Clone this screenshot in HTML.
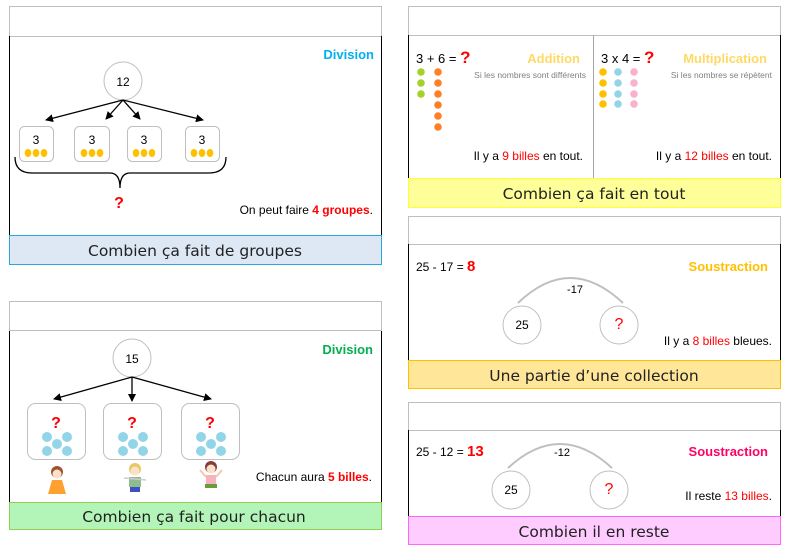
<!DOCTYPE html>
<html><head><meta charset="utf-8"><style>
body{margin:0;background:#fff;width:793px;height:557px;overflow:hidden}
svg{display:block}
text{font-family:"Liberation Sans",sans-serif}
.f{font-family:"DejaVu Sans","Liberation Sans",sans-serif;font-size:15.5px;fill:#222}
</style></head><body>
<svg width="793" height="557" viewBox="0 0 793 557" xmlns="http://www.w3.org/2000/svg">
<defs><marker id="a" markerWidth="8" markerHeight="8" refX="7" refY="4" orient="auto" markerUnits="userSpaceOnUse"><path d="M0,0 L8,4 L0,8 z" fill="#000"/></marker></defs>

<!-- Panel 1 -->
<rect x="9.5" y="6.5" width="372" height="30" fill="#fff" stroke="#bfbfbf"/>
<path d="M9.5,36 V235 M381.5,36 V235" stroke="#000"/>
<rect x="9.5" y="235.5" width="372" height="29" fill="#dde8f4" stroke="#2aa6de"/>
<text class="f" x="195" y="256" text-anchor="middle">Combien ça fait de groupes</text>
<text x="374" y="59" text-anchor="end" font-weight="bold" font-size="13" fill="#00b0f0">Division</text>
<circle cx="123" cy="81" r="19" fill="#fff" stroke="#bfbfbf"/>
<text x="123" y="86" text-anchor="middle" font-size="12">12</text>
<g stroke="#000" stroke-width="1.3" marker-end="url(#a)">
<line x1="123" y1="100" x2="46" y2="120"/><line x1="123" y1="100" x2="106" y2="119"/>
<line x1="123" y1="100" x2="140" y2="119"/><line x1="123" y1="100" x2="203" y2="120"/></g>
<g fill="#fff" stroke="#bfbfbf">
<rect x="19.5" y="126.5" width="34" height="35" rx="5"/><rect x="74.5" y="126.5" width="35" height="35" rx="5"/>
<rect x="127.5" y="126.5" width="34" height="35" rx="5"/><rect x="185.5" y="126.5" width="34" height="35" rx="5"/></g>
<g font-size="12" text-anchor="middle"><text x="36" y="144">3</text><text x="92" y="144">3</text><text x="144" y="144">3</text><text x="202" y="144">3</text></g>
<g fill="#ffc000">
<ellipse cx="28" cy="153" rx="3.3" ry="4"/><ellipse cx="36" cy="153" rx="3.3" ry="4"/><ellipse cx="44" cy="153" rx="3.3" ry="4"/>
<ellipse cx="84" cy="153" rx="3.3" ry="4"/><ellipse cx="92" cy="153" rx="3.3" ry="4"/><ellipse cx="100" cy="153" rx="3.3" ry="4"/>
<ellipse cx="136" cy="153" rx="3.3" ry="4"/><ellipse cx="144" cy="153" rx="3.3" ry="4"/><ellipse cx="152" cy="153" rx="3.3" ry="4"/>
<ellipse cx="194" cy="153" rx="3.3" ry="4"/><ellipse cx="202" cy="153" rx="3.3" ry="4"/><ellipse cx="210" cy="153" rx="3.3" ry="4"/></g>
<path d="M15,157 Q15,173 32,173 H110 Q120,173 120,188 Q120,173 130,173 H209 Q226,173 226,157" fill="none" stroke="#000" stroke-width="1.3"/>
<text x="119" y="208" text-anchor="middle" font-weight="bold" font-size="16" fill="#ff0000">?</text>
<text x="373" y="214" text-anchor="end" font-size="12">On peut faire <tspan fill="#ff0000" font-weight="bold">4 groupes</tspan>.</text>

<!-- Panel 2 -->
<rect x="408.5" y="6.5" width="372" height="29" fill="#fff" stroke="#bfbfbf"/>
<path d="M408.5,35 V178 M780.5,35 V178" stroke="#000"/>
<path d="M593.5,35 V178" stroke="#a6a6a6"/>
<rect x="408.5" y="178.5" width="372" height="29" fill="#ffff99" stroke="#ffff33"/>
<text class="f" x="594" y="199" text-anchor="middle">Combien ça fait en tout</text>
<text x="416" y="63" font-size="13">3 + 6 = <tspan fill="#ff0000" font-weight="bold" font-size="17">?</tspan></text>
<text x="580" y="63" text-anchor="end" font-weight="bold" font-size="13" fill="#ffd966">Addition</text>
<text x="586" y="78" text-anchor="end" font-size="8.5" fill="#7f7f7f">Si les nombres sont différents</text>
<g fill="#a6d12a"><circle cx="421" cy="72" r="3.8"/><circle cx="421" cy="83" r="3.8"/><circle cx="421" cy="94" r="3.8"/></g>
<g fill="#ff7f27"><circle cx="438" cy="72" r="3.8"/><circle cx="438" cy="83" r="3.8"/><circle cx="438" cy="94" r="3.8"/><circle cx="438" cy="105" r="3.8"/><circle cx="438" cy="116" r="3.8"/><circle cx="438" cy="127" r="3.8"/></g>
<text x="583" y="160" text-anchor="end" font-size="12">Il y a <tspan fill="#ff0000">9 billes</tspan> en tout.</text>
<text x="601" y="63" font-size="13">3 x 4 = <tspan fill="#ff0000" font-weight="bold" font-size="17">?</tspan></text>
<text x="767" y="63" text-anchor="end" font-weight="bold" font-size="13" fill="#ffd966">Multiplication</text>
<text x="772" y="78" text-anchor="end" font-size="8.5" fill="#7f7f7f">Si les nombres se répètent</text>
<g fill="#ffc000"><circle cx="603" cy="72" r="3.8"/><circle cx="603" cy="83" r="3.8"/><circle cx="603" cy="94" r="3.8"/><circle cx="603" cy="104" r="3.8"/></g>
<g fill="#92d5e8"><circle cx="618" cy="72" r="3.8"/><circle cx="618" cy="83" r="3.8"/><circle cx="618" cy="94" r="3.8"/><circle cx="618" cy="104" r="3.8"/></g>
<g fill="#f9b1cd"><circle cx="634" cy="72" r="3.8"/><circle cx="634" cy="83" r="3.8"/><circle cx="634" cy="94" r="3.8"/><circle cx="634" cy="104" r="3.8"/></g>
<text x="772" y="160" text-anchor="end" font-size="12">Il y a <tspan fill="#ff0000">12 billes</tspan> en tout.</text>

<!-- Panel 3 -->
<rect x="9.5" y="301.5" width="372" height="29" fill="#fff" stroke="#bfbfbf"/>
<path d="M9.5,331 V502 M381.5,331 V502" stroke="#000"/>
<rect x="9.5" y="502.5" width="372" height="27" fill="#b3f5b9" stroke="#92d050"/>
<text class="f" x="194" y="522" text-anchor="middle">Combien ça fait pour chacun</text>
<text x="373" y="354" text-anchor="end" font-weight="bold" font-size="13" fill="#00b050">Division</text>
<circle cx="132" cy="358" r="19" fill="#fff" stroke="#bfbfbf"/>
<text x="132" y="363" text-anchor="middle" font-size="12">15</text>
<g stroke="#000" stroke-width="1.3" marker-end="url(#a)">
<line x1="132" y1="377" x2="54" y2="399"/><line x1="132" y1="377" x2="132" y2="401"/><line x1="132" y1="377" x2="211" y2="399"/></g>
<g fill="#fff" stroke="#bfbfbf">
<rect x="27.5" y="403.5" width="58" height="56" rx="8"/><rect x="103.5" y="403.5" width="58" height="56" rx="8"/><rect x="181.5" y="403.5" width="58" height="56" rx="8"/></g>
<g font-weight="bold" font-size="16" fill="#ff0000" text-anchor="middle"><text x="56" y="428">?</text><text x="132" y="428">?</text><text x="210" y="428">?</text></g>
<g fill="#92d5e8">
<circle cx="47" cy="437" r="5"/><circle cx="67" cy="437" r="5"/><circle cx="57" cy="444" r="5"/><circle cx="47" cy="451" r="5"/><circle cx="67" cy="451" r="5"/>
<circle cx="123" cy="437" r="5"/><circle cx="143" cy="437" r="5"/><circle cx="133" cy="444" r="5"/><circle cx="123" cy="451" r="5"/><circle cx="143" cy="451" r="5"/>
<circle cx="201" cy="437" r="5"/><circle cx="221" cy="437" r="5"/><circle cx="211" cy="444" r="5"/><circle cx="201" cy="451" r="5"/><circle cx="221" cy="451" r="5"/></g>
<!-- kids -->
<circle cx="57" cy="472" r="6" fill="#a0522d"/><circle cx="57" cy="474" r="4.5" fill="#fde0c8"/>
<path d="M52,480 L62,480 L66,494 L48,494 z" fill="#ffa030"/>
<circle cx="135" cy="469" r="6" fill="#e8c860"/><circle cx="135" cy="471" r="4.5" fill="#fde0c8"/>
<rect x="129" y="477" width="12" height="10" fill="#8fbc8f"/><rect x="130" y="487" width="10" height="5" fill="#4050c0"/>
<path d="M124,478 L146,480" stroke="#ccc" stroke-width="1.5"/>
<circle cx="211" cy="467" r="6" fill="#8b3a3a"/><circle cx="211" cy="469" r="4.5" fill="#fde0c8"/>
<rect x="206" y="475" width="10" height="9" fill="#f9b1c0"/><rect x="205" y="484" width="12" height="4" fill="#6a9a3a"/>
<path d="M200,470 L206,477 M222,470 L216,477" stroke="#f4c8b0" stroke-width="2"/>
<text x="372" y="481" text-anchor="end" font-size="12">Chacun aura  <tspan fill="#ff0000" font-weight="bold">5 billes</tspan>.</text>

<!-- Panel 4 -->
<rect x="408.5" y="216.5" width="372" height="28" fill="#fff" stroke="#bfbfbf"/>
<path d="M408.5,244 V360 M780.5,244 V360" stroke="#000"/>
<rect x="408.5" y="360.5" width="372" height="28" fill="#ffe699" stroke="#ffc000"/>
<text class="f" x="594" y="381" text-anchor="middle">Une partie d’une collection</text>
<text x="416" y="271" font-size="12">25 - 17 = <tspan fill="#ff0000" font-weight="bold" font-size="15">8</tspan></text>
<text x="768" y="271" text-anchor="end" font-weight="bold" font-size="13" fill="#ffc000">Soustraction</text>
<path d="M518,303 Q570,253 623,303" fill="none" stroke="#bfbfbf" stroke-width="2"/>
<text x="575" y="293" text-anchor="middle" font-size="11">-17</text>
<circle cx="522" cy="325" r="19" fill="#fff" stroke="#bfbfbf"/><text x="522" y="329" text-anchor="middle" font-size="12">25</text>
<circle cx="619" cy="325" r="19" fill="#fff" stroke="#bfbfbf"/><text x="619" y="329" text-anchor="middle" font-size="16" fill="#ff0000">?</text>
<text x="772" y="345" text-anchor="end" font-size="12">Il y a <tspan fill="#ff0000">8 billes</tspan> bleues.</text>

<!-- Panel 5 -->
<rect x="408.5" y="402.5" width="372" height="28" fill="#fff" stroke="#bfbfbf"/>
<path d="M408.5,430 V516 M780.5,430 V516" stroke="#000"/>
<rect x="408.5" y="516.5" width="372" height="28" fill="#ffccff" stroke="#ff66ff"/>
<text class="f" x="594" y="537" text-anchor="middle">Combien il en reste</text>
<text x="416" y="456" font-size="12">25 - 12 = <tspan fill="#ff0000" font-weight="bold" font-size="15">13</tspan></text>
<text x="768" y="456" text-anchor="end" font-weight="bold" font-size="13" fill="#ff0066">Soustraction</text>
<path d="M508,468 Q560,420 612,468" fill="none" stroke="#bfbfbf" stroke-width="2"/>
<text x="562" y="456" text-anchor="middle" font-size="11">-12</text>
<circle cx="511" cy="490" r="19" fill="#fff" stroke="#bfbfbf"/><text x="511" y="494" text-anchor="middle" font-size="12">25</text>
<circle cx="609" cy="490" r="19" fill="#fff" stroke="#bfbfbf"/><text x="609" y="494" text-anchor="middle" font-size="16" fill="#ff0000">?</text>
<text x="772" y="500" text-anchor="end" font-size="12">Il reste <tspan fill="#ff0000">13 billes</tspan>.</text>
</svg>
</body></html>
